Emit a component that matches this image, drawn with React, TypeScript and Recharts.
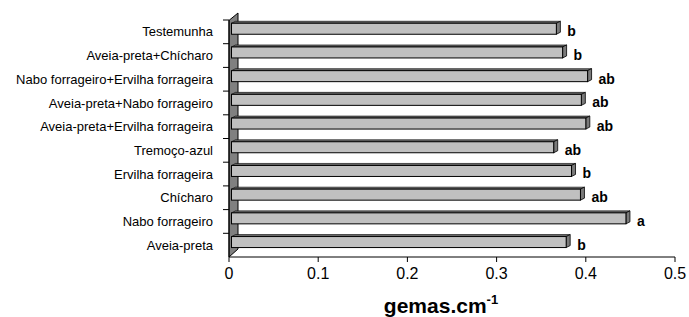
import { Bar, BarChart, XAxis, YAxis, LabelList } from "recharts"

const categories = [
  "Testemunha",
  "Aveia-preta+Chícharo",
  "Nabo forrageiro+Ervilha forrageira",
  "Aveia-preta+Nabo forrageiro",
  "Aveia-preta+Ervilha forrageira",
  "Tremoço-azul",
  "Ervilha forrageira",
  "Chícharo",
  "Nabo forrageiro",
  "Aveia-preta",
]
const gemas = [0.367, 0.374, 0.402, 0.395, 0.4, 0.364, 0.384, 0.394, 0.445, 0.378]
const letters = ["b", "b", "ab", "ab", "ab", "ab", "b", "ab", "a", "b"]
const xTicks = [0, 0.1, 0.2, 0.3, 0.4, 0.5]

const data = categories.map((name, i) => ({ name, value: gemas[i], letter: letters[i] }))

const W = 689
const H = 317
const margin = { top: 20, right: 14, bottom: 0, left: 0 }
const Y_WIDTH = 229
const X_HEIGHT = 60
const plotLeft = margin.left + Y_WIDTH
const plotTop = margin.top
const plotBottom = H - margin.bottom - X_HEIGHT
const band = (plotBottom - plotTop) / categories.length

const FONT = "'Liberation Sans', Arial, sans-serif"
const DX = 4
const DY = 2
const SHIFT = -3.75

function Bar3D(props: any) {
  const { x, y, width, height } = props
  const top = y + SHIFT
  const fx = x + 2.5
  const right = x + width
  const fTop = top + DY
  const fBot = top + height
  return (
    <g>
      <polygon
        points={`${fx},${fTop} ${fx + DX},${top} ${right + DX},${top} ${right},${fTop}`}
        fill="#6a6a6a"
        stroke="#000"
        strokeWidth={0.6}
      />
      <polygon
        points={`${right},${fTop} ${right + DX},${top} ${right + DX},${fBot - DY} ${right},${fBot}`}
        fill="#7a7a7a"
        stroke="#000"
        strokeWidth={0.8}
      />
      <rect x={fx} y={fTop} width={right - fx} height={fBot - fTop} fill="#c0c0c0" stroke="#000" strokeWidth={1} />
    </g>
  )
}

function LetterLabel(props: any) {
  const { x, y, width, value } = props
  return (
    <text x={x + width + 11} y={y + 11.25} fontFamily={FONT} fontSize={14} fontWeight="bold" fill="#000">
      {value}
    </text>
  )
}

function CategoryTick(props: any) {
  const { x, y, payload } = props
  const by = y - band / 2
  return (
    <g>
      <line x1={plotLeft - 6} x2={plotLeft} y1={by} y2={by} stroke="#000" />
      <text x={x} y={y} dy="0.35em" textAnchor="end" fontFamily={FONT} fontSize={13} fill="#000">
        {payload.value}
      </text>
    </g>
  )
}

function Wall() {
  return (
    <polygon
      points={`${plotLeft},${plotTop + 0.4} ${plotLeft + 9},${plotTop - 7} ${plotLeft + 9},${plotBottom - 8} ${plotLeft},${plotBottom}`}
      fill="#808080"
      stroke="#000"
      strokeWidth={1}
    />
  )
}

function AxisTitle(props: any) {
  const vb = props.viewBox || { x: plotLeft, y: plotBottom, width: W - plotLeft - margin.right }
  const cx = vb.x + vb.width / 2 - 11
  return (
    <text x={cx} y={vb.y + 56} textAnchor="middle" fontFamily={FONT} fontWeight="bold" fontSize={21} fill="#000">
      gemas.cm
      <tspan fontSize={13} dy={-9}>-1</tspan>
    </text>
  )
}

export default function App() {
  return (
    <div style={{ position: "absolute", left: 0, top: 0, width: W, height: H, background: "#fff" }}>
      <BarChart width={W} height={H} data={data} layout="vertical" margin={margin} barSize={13}>
        <Wall />
        <XAxis
          type="number"
          domain={[0, 0.5]}
          ticks={xTicks}
          interval={0}
          height={X_HEIGHT}
          tickSize={5}
          tickMargin={6}
          axisLine={{ stroke: "#000" }}
          tickLine={{ stroke: "#000" }}
          tick={{ fill: "#000", fontSize: 16, fontFamily: FONT }}
          label={{ content: AxisTitle }}
        />
        <YAxis
          type="category"
          dataKey="name"
          width={Y_WIDTH}
          interval={0}
          tickLine={false}
          tickSize={6}
          tickMargin={10}
          axisLine={{ stroke: "#000" }}
          tick={CategoryTick}
        />
        <Bar dataKey="value" shape={Bar3D} isAnimationActive={false}>
          <LabelList dataKey="letter" content={LetterLabel} />
        </Bar>
      </BarChart>
    </div>
  )
}
